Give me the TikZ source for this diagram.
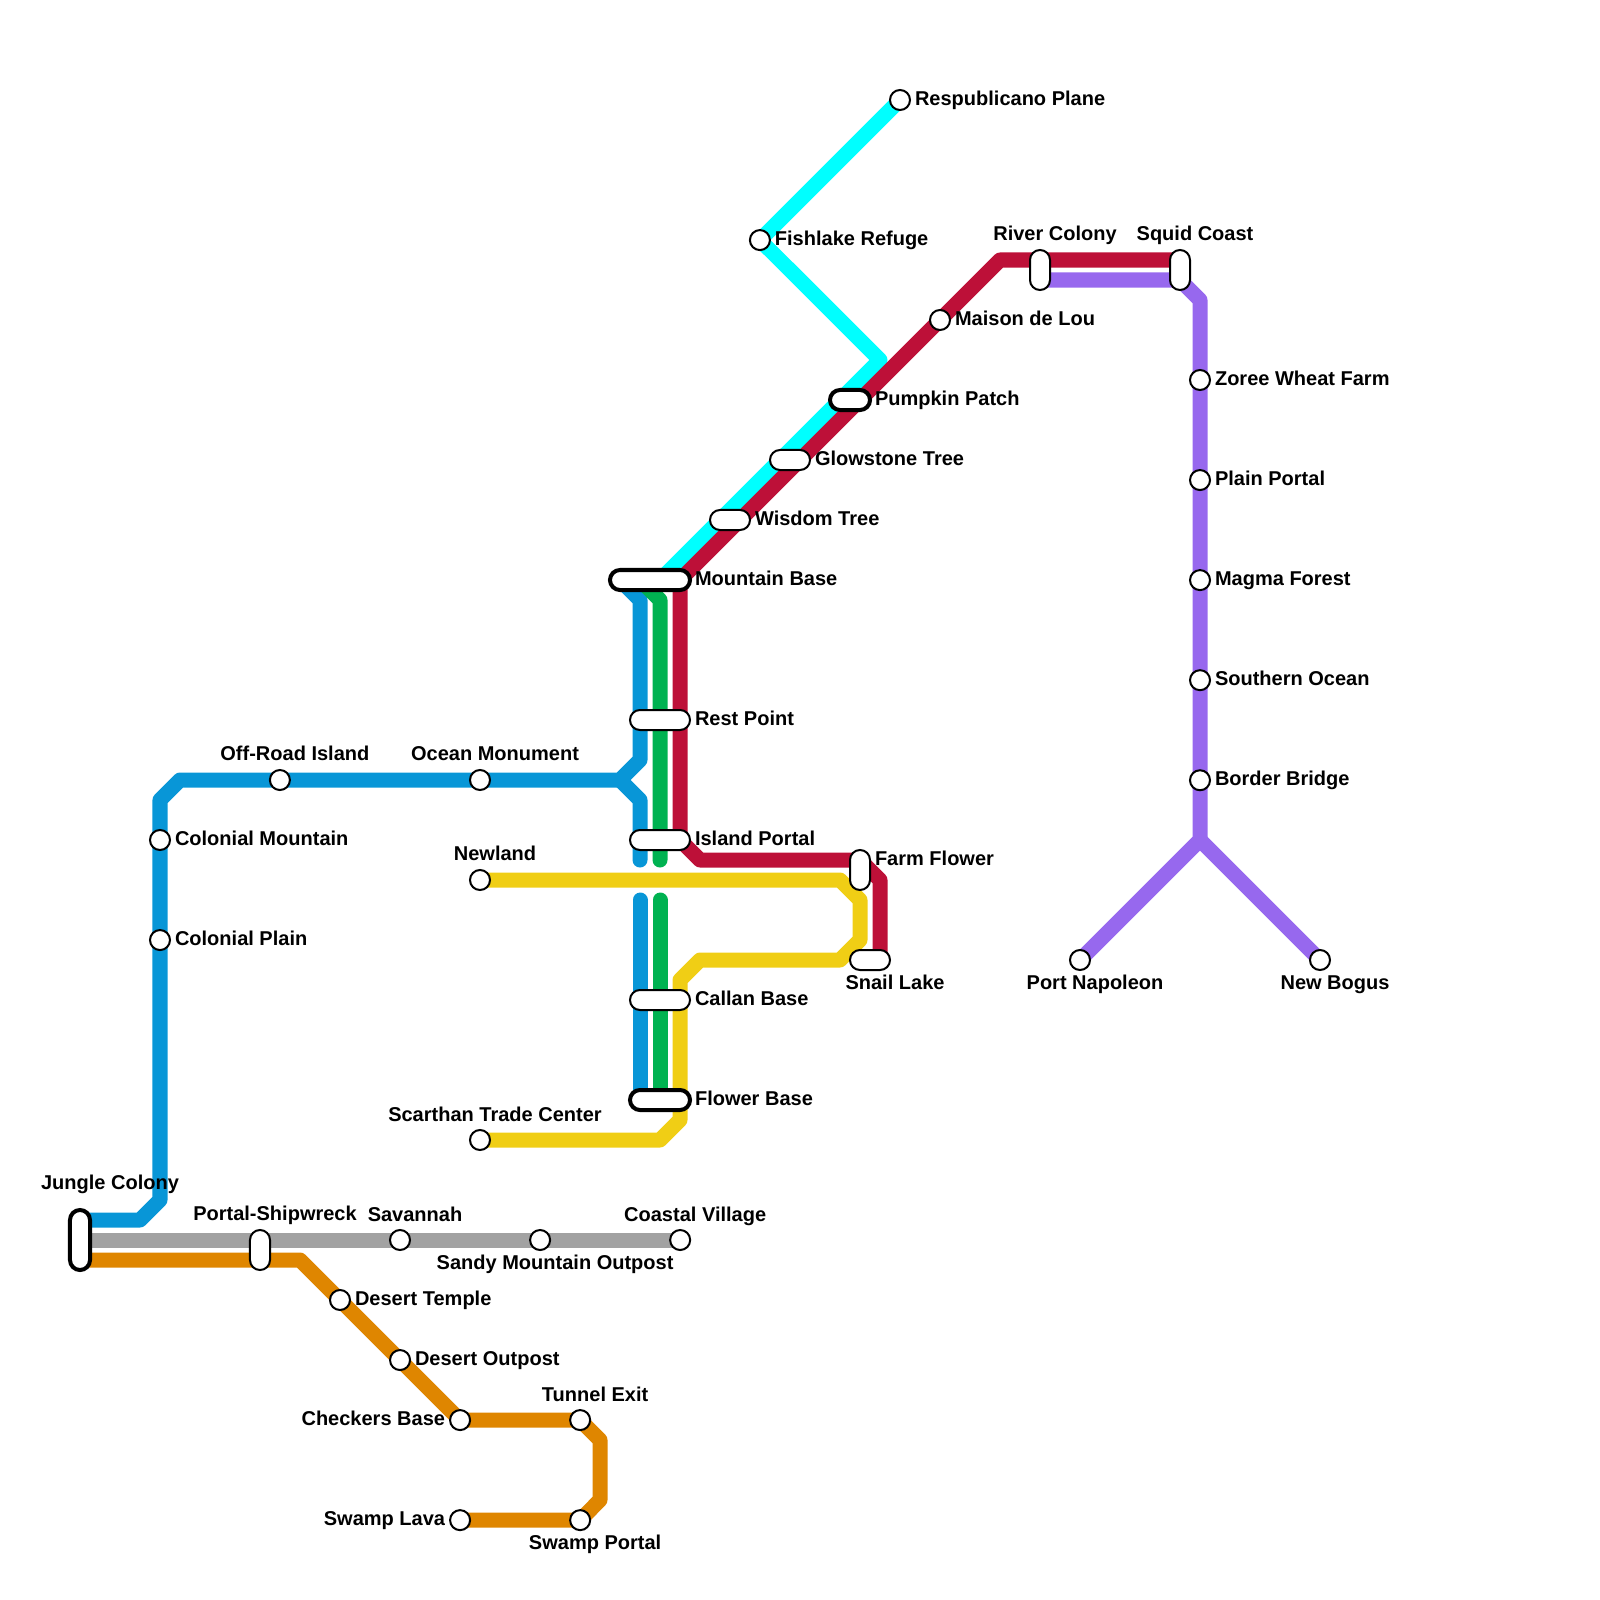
\documentclass[tikz,border=0pt]{standalone}
\usepackage{fontspec}
\setmainfont{Liberation Sans}
\usetikzlibrary{positioning,backgrounds}
\definecolor{trackblue}{HTML}{0896D7}
\definecolor{trackgreen}{HTML}{00B251}
\definecolor{trackred}{HTML}{BD1038}
\definecolor{trackyellow}{HTML}{F0CE15}
\definecolor{trackcyan}{HTML}{00FFFF}
\definecolor{trackpurple}{HTML}{9768EE}
\definecolor{trackgray}{HTML}{A2A2A2}
\definecolor{trackorange}{HTML}{DF8600}

\begin{document}
\begin{tikzpicture}[
		x=0.01cm,y=-0.01cm,on grid,label distance=0.5mm,
		stn/.style={circle,draw=black,line width=0.2mm,fill=white,minimum size=2mm,inner sep=0pt,outer sep=0pt},
		xfer/.style={rectangle,draw=black,line width=0.2mm,fill=white,rounded corners=1mm,minimum width=2mm,minimum height=2mm,inner sep=0pt,outer sep=0pt},
		hub/.style={xfer,line width=0.4mm},
		lbl/.style={inner sep=0pt,outer sep=0pt,text height=1.4mm,text depth=0.4mm,font=\fontsize{5.69}{6.8}\selectfont\bfseries},
		track/.style={line width=1.5mm,line join=round,line cap=round}
		]
		\useasboundingbox (0,0) rectangle (1600,1600);

		% cyan branch
		\node[stn,label={[lbl]right:Respublicano Plane}] (respublicano) at (900,100) {};
		\node[stn,label={[lbl]right:Fishlake Refuge}] (fishlake) [below left=1.4cm and 1.4cm of respublicano] {};

		% red line
		\node[stn,label={[lbl]right:Maison de Lou}] (maison) at (940,320) {};
		\node[hub,minimum width=0.4cm,label={[lbl]right:Pumpkin Patch}] (pumpkin) at (850,400) {};
		\node[xfer,minimum width=0.4cm,label={[lbl]right:Glowstone Tree}] (glowstone) at (790,460) {};
		\node[xfer,minimum width=0.4cm,label={[lbl]right:Wisdom Tree}] (wisdom) at (730,520) {};
		\node[hub,minimum width=0.8cm,label={[lbl]right:Mountain Base}] (mountain) at (650,580) {};
		\node[xfer,minimum width=0.6cm,label={[lbl]right:Rest Point}] (rest) at (660,720) {};
		\node[xfer,minimum width=0.6cm,label={[lbl]right:Island Portal}] (island) at (660,840) {};
		\node[xfer,minimum height=0.4cm,label={[lbl,yshift=1mm]right:Farm Flower}] (farm) at (860,870) {};
		\node[xfer,minimum width=0.4cm,label={[lbl,xshift=2.5mm]below:Snail Lake}] (snail) at (870,960) {};
		\node[xfer,minimum width=0.6cm,label={[lbl]right:Callan Base}] (callan) at (660,1000) {};
		\node[hub,minimum width=0.6cm,label={[lbl]right:Flower Base}] (flower) at (660,1100) {};

		% purple line
		\node[xfer,minimum height=0.4cm,label={[lbl,xshift=1.5mm]above:River Colony}] (river) at (1040,270) {};
		\node[xfer,minimum height=0.4cm,label={[lbl,xshift=1.5mm]above:Squid Coast}] (squid) at (1180,270) {};
		\node[stn,label={[lbl]right:Zoree Wheat Farm}] (zoree) at (1200,380) {};
		\node[stn,label={[lbl]right:Plain Portal}] (plain) [below=1cm of zoree] {};
		\node[stn,label={[lbl]right:Magma Forest}] (magma) [below=1cm of plain] {};
		\node[stn,label={[lbl]right:Southern Ocean}] (southern) [below=1cm of magma] {};
		\node[stn,label={[lbl]right:Border Bridge}] (border) [below=1cm of southern] {};
		\node[stn,label={[lbl,xshift=1.5mm]below:Port Napoleon}] (napoleon) at (1080,960) {};
		\node[stn,label={[lbl,xshift=1.5mm]below:New Bogus}] (bogus) at (1320,960) {};

		% blue line
		\node[stn,label={[lbl,xshift=1.5mm]above:Ocean Monument}] (ocean) at (480,780) {};
		\node[stn,label={[lbl,xshift=1.5mm]above:Off-Road Island}] (offroad) [left=2cm of ocean] {};
		\node[stn,label={[lbl]right:Colonial Mountain}] (colmountain) at (160,840) {};
		\node[stn,label={[lbl]right:Colonial Plain}] (colplain) [below=1cm of colmountain] {};

		% yellow line
		\node[stn,label={[lbl,xshift=1.5mm]above:Newland}] (newland) at (480,880) {};
		\node[stn,label={[lbl,xshift=1.5mm]above:Scarthan Trade Center}] (scarthan) at (480,1140) {};

		% gray line
		\node[hub,minimum height=0.6cm,label={[lbl,xshift=3mm,yshift=1.1mm]above:Jungle Colony}] (jungle) at (80,1240) {};
		\node[xfer,minimum height=0.4cm,label={[lbl,xshift=1.5mm]above:Portal-Shipwreck}] (portal) at (260,1250) {};
		\node[stn,label={[lbl,xshift=1.5mm]above:Savannah}] (savannah) at (400,1240) {};
		\node[stn,label={[lbl,xshift=1.5mm]below:Sandy Mountain Outpost}] (sandy) [right=1.4cm of savannah] {};
		\node[stn,label={[lbl,xshift=1.5mm]above:Coastal Village}] (coastal) [right=1.4cm of sandy] {};

		% orange line
		\node[stn,label={[lbl]right:Desert Temple}] (temple) at (340,1300) {};
		\node[stn,label={[lbl]right:Desert Outpost}] (outpost) [below right=0.6cm and 0.6cm of temple] {};
		\node[stn,label={[lbl]left:Checkers Base}] (checkers) [below right=0.6cm and 0.6cm of outpost] {};
		\node[stn,label={[lbl,xshift=1.5mm]above:Tunnel Exit}] (tunnel) [right=1.2cm of checkers] {};
		\node[stn,label={[lbl]left:Swamp Lava}] (lava) [below=1cm of checkers] {};
		\node[stn,label={[lbl,xshift=1.5mm]below:Swamp Portal}] (swamp) [right=1.2cm of lava] {};

		\begin{scope}[on background layer]
			\coordinate (cyanbend) at (880,360);
			\coordinate (mtncyan) at (660,580);
			\draw[track,trackcyan] (respublicano.center) -- (fishlake.center) -- (cyanbend) -- (mtncyan);

			\coordinate (squidred) at (1180,260);
			\coordinate (redtop) at (1000,260);
			\coordinate (mtnred) at (680,580);
			\coordinate (redleft) at (680,840);
			\coordinate (redlow) at (700,860);
			\coordinate (redfarm) at (860,860);
			\coordinate (redright) at (880,880);
			\coordinate (snailred) at (880,960);
			\draw[track,trackred] (squidred) -- (redtop) -- (maison.center) -- (mtnred) -- (redleft) -- (redlow) -- (redfarm) -- (redright) -- (snailred);

			\coordinate (riverpurple) at (1040,280);
			\coordinate (squidpurple) at (1180,280);
			\coordinate (purplebend) at (1200,300);
			\coordinate (purplefork) at (1200,840);
			\draw[track,trackpurple] (riverpurple) -- (squidpurple) -- (purplebend) -- (zoree.center) -- (border.center) -- (purplefork) -- (napoleon.center);
			\draw[track,trackpurple] (purplefork) -- (bogus.center);

			\coordinate (jungleblue) at (80,1220);
			\coordinate (blueb) at (140,1220);
			\coordinate (bluec) at (160,1200);
			\coordinate (blued) at (160,800);
			\coordinate (bluee) at (180,780);
			\coordinate (bluefork) at (620,780);
			\coordinate (blueup) at (640,760);
			\coordinate (bluetop) at (640,600);
			\coordinate (mtnblue) at (620,580);
			\coordinate (bluedown) at (640,800);
			\coordinate (blueend) at (640,860);
			\coordinate (bluestart) at (640,900);
			\coordinate (flowerblue) at (640,1100);
			\draw[track,trackblue] (jungleblue) -- (blueb) -- (bluec) -- (blued) -- (bluee) -- (bluefork) -- (blueup) -- (bluetop) -- (mtnblue);
			\draw[track,trackblue] (bluefork) -- (bluedown) -- (blueend);
			\draw[track,trackblue] (bluestart) -- (flowerblue);

			\coordinate (mtngreen) at (640,580);
			\coordinate (greentop) at (660,600);
			\coordinate (greenend) at (660,860);
			\coordinate (greenstart) at (660,900);
			\coordinate (flowergreen) at (660,1100);
			\draw[track,trackgreen] (mtngreen) -- (greentop) -- (greenend);
			\draw[track,trackgreen] (greenstart) -- (flowergreen);

			\coordinate (yellowa) at (840,880);
			\coordinate (yellowb) at (860,900);
			\coordinate (yellowc) at (860,940);
			\coordinate (yellowd) at (840,960);
			\coordinate (yellowe) at (700,960);
			\coordinate (yellowf) at (680,980);
			\coordinate (yellowg) at (680,1120);
			\coordinate (yellowh) at (660,1140);
			\draw[track,trackyellow] (newland.center) -- (yellowa) -- (yellowb) -- (yellowc) -- (yellowd) -- (yellowe) -- (yellowf) -- (yellowg) -- (yellowh) -- (scarthan.center);

			\coordinate (junglegray) at (80,1240);
			\draw[track,trackgray] (junglegray) -- (coastal.center);

			\coordinate (jungleorange) at (80,1260);
			\coordinate (orangea) at (300,1260);
			\coordinate (orangec) at (600,1440);
			\coordinate (oranged) at (600,1500);
			\draw[track,trackorange] (jungleorange) -- (orangea) -- (checkers.center) -- (tunnel.center) -- (orangec) -- (oranged) -- (swamp.center) -- (lava.center);
		\end{scope}
\end{tikzpicture}
\end{document}
